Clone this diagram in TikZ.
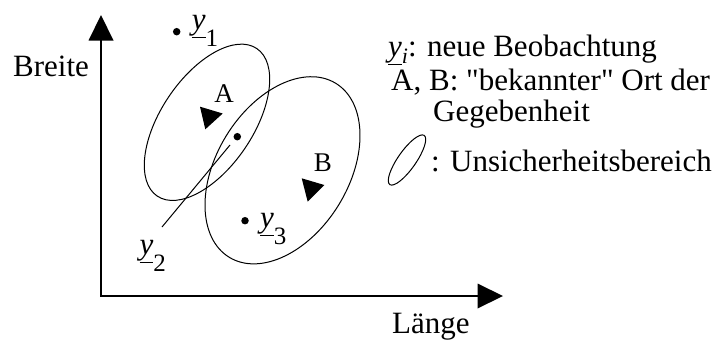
\documentclass[tikz,border=0pt]{standalone}
\usepackage{fontspec}
\setmainfont{Liberation Serif}[Ligatures=TeXOff]
\newcommand\ylab[1]{\underline{\textit{y}}\raisebox{-17pt}{\fontsize{25}{28}\selectfont #1}}
\begin{document}
\begin{tikzpicture}[x=1pt,y=-1pt,
  lbl/.style={font=\fontsize{27}{30}\selectfont, inner sep=0pt},
  txt/.style={font=\fontsize{31}{36}\selectfont, inner sep=0pt},
  axis/.style={line width=1.4pt},
  region/.style={line width=1pt},
  dotm/.style={circle, fill=black, minimum size=7.5pt, inner sep=0pt}]
\useasboundingbox (0,0) rectangle (723,340);
% axes
\coordinate (O) at (101,296);
\coordinate (ytop) at (101,40);
\coordinate (xend) at (478,296);
\draw[axis] (ytop) -- (O) -- (xend);
\fill (101,15) -- (88.5,40.5) -- (113.5,40.5) -- cycle;
\fill (503,296) -- (477.5,283.5) -- (477.5,308.5) -- cycle;
\node[txt, anchor=base west] (breite) at (13,76) {Breite};
\node[txt, anchor=base west] (laenge) at (392,333) {Länge};
% regions
\coordinate (cA) at (207,122.3);
\coordinate (cB) at (282.5,170.3);
\draw[region, rotate around={56:(cA)}] (cA) ellipse [x radius=89pt, y radius=46pt];
\draw[region, rotate around={58.5:(cB)}] (cB) ellipse [x radius=102pt, y radius=66pt];
% known places
\fill (200,106.7) -- (222.7,113.5) -- (205.3,129.3) -- cycle;
\fill (301.7,178.3) -- (324.3,185) -- (307.7,201.7) -- cycle;
\node[lbl, anchor=base] (A) at (224,102.3) {A};
\node[lbl, anchor=base] (B) at (323,171.5) {B};
% observations
\node[dotm] (d1) at (176.7,31.7) {};
\node[dotm] (d2) at (237.3,136.7) {};
\node[dotm] (d3) at (245,220.7) {};
\node[txt, anchor=base west] (l1) at (191.7,29.5) {\ylab{1}};
\node[txt, anchor=base west] (l3) at (260,227) {\ylab{3}};
\node[txt, anchor=base west] (l2) at (139.3,254) {\ylab{2}};
\coordinate (s2) at (162,227);
\coordinate (e2) at (230,145);
\draw[region] (s2) -- (e2);
% legend
\node[txt, anchor=base west] (leg1) at (388,56) {\underline{\textit{y}}\raisebox{-7pt}{\fontsize{22}{24}\selectfont\textit{i}}: neue Beobachtung};
\node[txt, anchor=base west] (leg2) at (391,90) {A, B: "bekannter" Ort der};
\node[txt, anchor=base west] (leg3) at (433,121) {Gegebenheit};
\coordinate (cL) at (407,160);
\draw[region, rotate around={55:(cL)}] (cL) ellipse [x radius=30pt, y radius=9pt];
\node[txt, anchor=base west] (leg4) at (431,171) {: Unsicherheitsbereich};
\end{tikzpicture}
\end{document}
